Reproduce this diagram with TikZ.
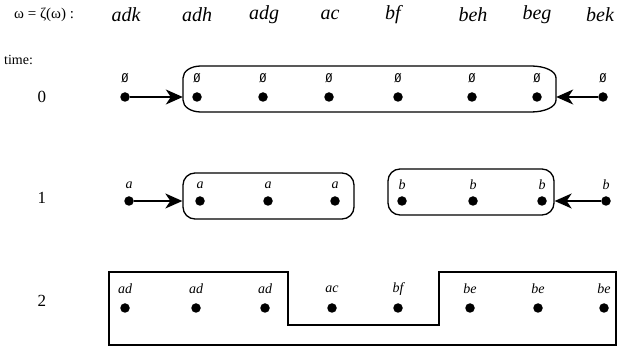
\documentclass[tikz,border=0pt]{standalone}
\usepackage{fontspec}
\setmainfont{Liberation Serif}
\newfontfamily\monofnt{DejaVu Sans Mono}
\usetikzlibrary{arrows.meta}
\tikzset{
  dot/.style={circle,fill=black,inner sep=0pt,minimum size=9.5pt},
  lab/.style={font=\fontsize{14}{15}\selectfont\itshape,inner sep=0pt},
  empt/.style={font=\fontsize{12}{13}\monofnt,inner sep=0pt},
  hdr/.style={font=\fontsize{20}{21}\selectfont\itshape,inner sep=0pt},
  rowlab/.style={font=\fontsize{17}{18}\selectfont,inner sep=0pt},
  grp/.style={draw,line width=1.3pt,rounded corners=12pt,inner sep=0pt},
  hid/.style={draw=none,inner sep=0pt},
  outl/.style={line width=1.3pt},
  arr/.style={-{Stealth[length=17pt,width=15pt,inset=5pt]},line width=1.4pt}
}
\begin{document}
\begin{tikzpicture}[x=1pt,y=-1pt]
\useasboundingbox (0,0) rectangle (619,347);
% header
\node[font=\fontsize{15}{16}\selectfont,anchor=west,inner sep=0pt] (omega) at (14,15) {ω = ζ(ω) :};
\foreach \t/\x [count=\i] in {adk/126,adh/197,adg/264,ac/330,bf/393,beh/473,beg/537,bek/600}
  \node[hdr] (h\i) at (\x,15) {\t};
\node[font=\fontsize{14}{15}\selectfont,anchor=west,inner sep=0pt] (time) at (4,60) {time:};
\node[rowlab] (r0) at (42,97) {0};
\node[rowlab] (r1) at (42,198) {1};
\node[rowlab] (r2) at (42,301) {2};
% row 0
\foreach \x [count=\i] in {125,197,263,329,398,472,537,603}{
  \node[dot] (a\i) at (\x,97) {};
  \node[empt] (ae\i) at (\x,78) {Ø};
}
\node[hid,minimum width=373pt,minimum height=46pt] (g0) at (369.5,89) {};
\draw[outl] (201,66) -- (531,66)
  .. controls (544.8,66) and (556,71) .. (556,78)
  -- (556,100)
  .. controls (556,107) and (544.8,112) .. (531,112)
  -- (201,112)
  .. controls (191,112) and (183,107) .. (183,100)
  -- (183,78)
  .. controls (183,71) and (191,66) .. (201,66) -- cycle;
\draw[arr] (a1) -- (g0.west |- a1);
\draw[arr] (a8) -- (g0.east |- a8);
% row 1
\foreach \x/\t [count=\i] in {129/a,200/a,268/a,335/a,402/b,473/b,542/b,606/b}{
  \node[dot] (b\i) at (\x,201) {};
  \node[lab] (be\i) at (\x,185) {\t};
}
\node[grp,minimum width=171pt,minimum height=46pt] (g1a) at (268.5,196) {};
\node[grp,minimum width=166pt,minimum height=46pt] (g1b) at (471,192) {};
\draw[arr] (b1) -- (g1a.west |- b1);
\draw[arr] (b8) -- (g1b.east |- b8);
% row 2
\foreach \x/\t [count=\i] in {125/ad,196/ad,265/ad,332/ac,398/bf,470/be,538/be,604/be}{
  \node[dot] (c\i) at (\x,308) {};
  \node[lab] (ce\i) at (\x,289) {\t};
}
\draw[line width=1.2pt] (109,272) -- (288,272) -- (288,325) -- (439,325) -- (439,272) -- (616,272) -- (616,345) -- (109,345) -- cycle;
\end{tikzpicture}
\end{document}
